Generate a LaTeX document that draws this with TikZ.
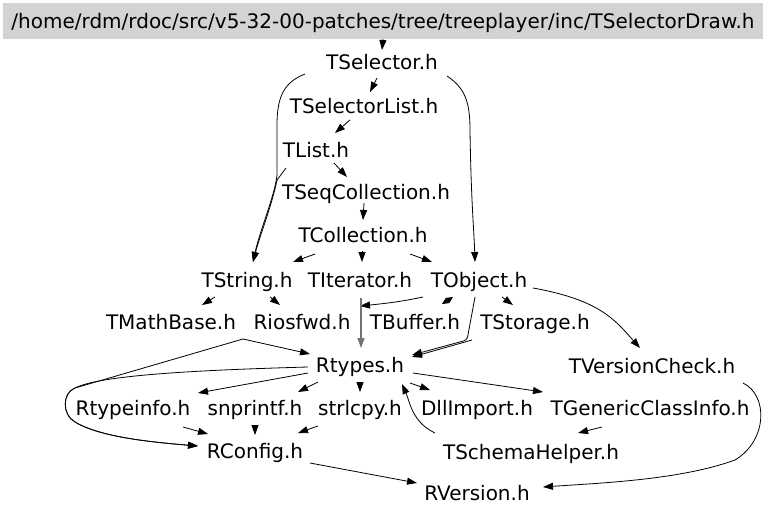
\documentclass[tikz,border=0pt]{standalone}
\usepackage{fontspec}
\setmainfont{DejaVu Sans}
\usetikzlibrary{arrows.meta,calc}
\definecolor{boxgray}{RGB}{211,211,211}
\tikzset{
  hdr/.style={inner sep=0pt, text height=16.5pt, text depth=2.5pt, font=\fontsize{20}{24}\selectfont},
  edge/.style={draw=black, line width=0.8pt, -{Triangle[length=10pt,width=7pt]}},
}
\begin{document}
\begin{tikzpicture}[x=1pt,y=-1pt]
\useasboundingbox (0,0) rectangle (768,517);
\node[fill=boxgray, minimum width=760pt, minimum height=36pt, inner sep=0pt, text height=16.5pt, text depth=2.5pt, font=\fontsize{20}{24}\selectfont] (top) at (383,21) {/home/rdm/rdoc/src/v5-32-00-patches/tree/treeplayer/inc/TSelectorDraw.h};
\node[hdr] (tsel) at (382,62) {TSelector.h};
\node[hdr] (tsl) at (364,106) {TSelectorList.h};
\node[hdr] (tlist) at (316,150) {TList.h};
\node[hdr] (tseq) at (366,192) {TSeqCollection.h};
\node[hdr] (tcoll) at (363,235) {TCollection.h};
\node[hdr] (tstr) at (247,280) {TString.h};
\node[hdr] (titer) at (360,280) {TIterator.h};
\node[hdr] (tobj) at (479,280) {TObject.h};
\node[hdr] (tmath) at (171,322) {TMathBase.h};
\node[hdr] (rios) at (302,322) {Riosfwd.h};
\node[hdr] (tbuf) at (415,322) {TBuffer.h};
\node[hdr] (tsto) at (535,322) {TStorage.h};
\node[hdr] (rtyp) at (360,365) {Rtypes.h};
\node[hdr] (tver) at (652,366) {TVersionCheck.h};
\node[hdr] (rti) at (133,408) {Rtypeinfo.h};
\node[hdr] (snp) at (255,408) {snprintf.h};
\node[hdr] (strl) at (360,408) {strlcpy.h};
\node[hdr] (dll) at (477,408) {DllImport.h};
\node[hdr] (tgen) at (650,408) {TGenericClassInfo.h};
\node[hdr] (rcfg) at (255,451) {RConfig.h};
\node[hdr] (tsch) at (531,452) {TSchemaHelper.h};
\node[hdr] (rver) at (477,493) {RVersion.h};

% edges
\draw[edge] (top.south) -- ($(tsel)+(0,-12)$);
\draw[edge] ($(tsel)+(-5,16)$) -- ($(tsl)+(6,-14)$);
\draw[edge] ($(tsel)+(-77,12)$) .. controls (285,82) and (277,95) .. (277,125) -- (277,175) .. controls (275,195) and (260,230) .. ($(tstr)+(6,-18)$);
\draw[edge] ($(tlist)+(-30,18)$) -- (277,180) .. controls (272,205) and (260,235) .. ($(tstr)+(6,-18)$);
\draw[edge] ($(tsel)+(65,14)$) .. controls (465,88) and (470,102) .. (470,130) .. controls (471,200) and (474,230) .. ($(tobj)+(-4,-18)$);
\draw[edge] ($(tsl)+(-14,14)$) -- ($(tlist)+(19,-17)$);
\draw[edge] ($(tlist)+(18,13)$) -- ($(tseq)+(-19,-15)$);
\draw[edge] ($(tseq)+(-2,11)$) -- ($(tcoll)+(0,-15)$);
\draw[edge] ($(tcoll)+(-48,19)$) -- ($(tstr)+(46,-18)$);
\draw[edge] ($(tcoll)+(-1,16)$) -- ($(titer)+(2,-18)$);
\draw[edge] ($(tcoll)+(47,19)$) -- ($(tobj)+(-47,-18)$);
\draw[edge] ($(tstr)+(-32,17)$) -- ($(tmath)+(31,-17)$);
\draw[edge] ($(tstr)+(23,17)$) -- ($(rios)+(-22,-17)$);
\draw[edge] ($(tobj)+(-56,17)$) .. controls (400,302) and (380,304) .. ($(rios)+(58,-16)$);
\draw[edge, draw=black!55, line width=1.4pt] ($(titer)+(1,18)$) -- ($(rtyp)+(1,-17)$);
\draw[draw=black, line width=0.8pt, {Triangle[length=6.5pt,width=6pt]}-{Triangle[length=6.5pt,width=6pt]}] ($(tbuf)+(27,-18)$) -- ($(tobj)+(-26,17)$);
\draw[edge] ($(tobj)+(23,17)$) -- ($(tsto)+(-22,-17)$);
\draw[edge] ($(tobj)+(54,8)$) .. controls (600,300) and (615,320) .. ($(tver)+(-12,-18)$);
\draw[edge, rounded corners=3pt] ($(tobj)+(-4,17)$) -- (467,340) -- ($(rtyp)+(52,-10)$);
\draw[edge] ($(tsto)+(-63,18)$) -- ($(rtyp)+(52,-8)$);
\draw[edge] ($(tmath)+(72,17)$) -- ($(rtyp)+(-50,-11)$);
\draw[edge] ($(tmath)+(72,17)$) -- (75,388) .. controls (62,393) and (62,415) .. (75,422) .. controls (100,437) and (150,442) .. ($(rcfg)+(-57,-5)$);
\draw[edge] ($(rtyp)+(-52,2)$) .. controls (200,370) and (100,375) .. (75,388) .. controls (62,393) and (62,415) .. (75,422) .. controls (100,437) and (150,442) .. ($(rcfg)+(-57,-5)$);
\draw[edge] ($(rtyp)+(-52,8)$) -- ($(rti)+(65,-15)$);
\draw[edge] ($(rtyp)+(-42,17)$) -- ($(snp)+(43,-16)$);
\draw[edge] ($(rtyp)+(0,17)$) -- ($(strl)+(0,-16)$);
\draw[edge] ($(rtyp)+(50,18)$) -- ($(dll)+(-47,-18)$);
\draw[edge] ($(rtyp)+(53,8)$) -- ($(tgen)+(-107,-16)$);
\draw[edge] ($(tsch)+(-96,-19)$) .. controls (412,422) and (410,402) .. ($(rtyp)+(42,19)$);
\draw[edge] ($(tver)+(91,17)$) .. controls (768,395) and (768,440) .. (735,460) .. controls (680,480) and (600,483) .. ($(rver)+(66,-6)$);
\draw[edge] ($(tgen)+(-48,19)$) -- ($(tsch)+(47,-19)$);
\draw[edge] ($(rti)+(50,19)$) -- ($(rcfg)+(-47,-17)$);
\draw[edge] ($(snp)+(0,19)$) -- ($(rcfg)+(0,-16)$);
\draw[edge] ($(strl)+(-42,18)$) -- ($(rcfg)+(43,-18)$);
\draw[edge] ($(rcfg)+(55,12)$) -- ($(rver)+(-60,-10)$);
\end{tikzpicture}
\end{document}
